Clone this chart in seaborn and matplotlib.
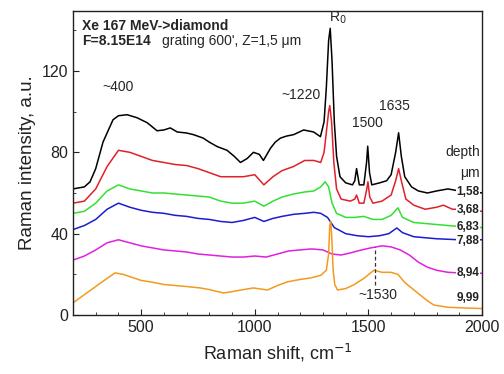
import numpy as np
import pandas as pd
import matplotlib
matplotlib.use("Agg")
import matplotlib.pyplot as plt
import seaborn as sns
from matplotlib.ticker import MultipleLocator

# ---- data ----
x_158 = [200, 250, 275, 300, 332, 376, 400, 438, 482, 526, 570, 600, 628, 659, 700, 730, 773, 800, 835, 878, 910, 937, 967, 994, 1020, 1038, 1069, 1090, 1113, 1140, 1171, 1215, 1259, 1289, 1305, 1315, 1325, 1332, 1340, 1350, 1360, 1375, 1400, 1430, 1440, 1448, 1460, 1480, 1492, 1497, 1505, 1515, 1550, 1580, 1600, 1620, 1633, 1645, 1660, 1690, 1720, 1760, 1800, 1850, 1900, 1950, 2000]
y_158 = [62, 63, 65.5, 72, 85, 96, 98, 98.5, 97, 94.6, 90.6, 91, 92, 90, 89.5, 88.7, 87, 85, 82.8, 81, 78, 75, 77, 80, 79, 76, 82, 85, 87, 88, 88.7, 91, 90, 87.7, 95, 112, 135, 141, 125, 95, 78, 68, 65, 64, 66, 72, 64, 64, 75, 83, 70, 64, 65, 66, 69, 80, 89.6, 78, 68, 63, 61, 60, 61, 62, 61, 61, 60]

x_368 = [200, 250, 300, 350, 400, 450, 500, 550, 600, 650, 700, 750, 800, 850, 900, 950, 1000, 1040, 1080, 1120, 1170, 1220, 1260, 1290, 1305, 1315, 1325, 1330, 1338, 1348, 1360, 1380, 1420, 1440, 1448, 1460, 1480, 1493, 1498, 1506, 1520, 1560, 1600, 1620, 1633, 1645, 1665, 1700, 1750, 1800, 1830, 1870, 1920, 2000]
y_368 = [55, 56, 62, 73, 81, 80, 78, 76, 75, 74, 73.5, 72, 70, 68, 68, 68, 69, 64, 68, 71, 73, 76, 76, 75, 80, 90, 100, 103, 95, 75, 62, 57, 56, 57, 59, 55, 55, 62, 65.5, 58, 55, 56, 59, 66, 72, 66, 57, 54, 52, 53, 54, 52, 52, 51]

x_683 = [200, 250, 300, 350, 400, 450, 500, 550, 600, 650, 700, 750, 800, 850, 900, 950, 1000, 1040, 1080, 1120, 1170, 1220, 1260, 1290, 1310, 1325, 1340, 1360, 1400, 1440, 1480, 1520, 1560, 1600, 1630, 1650, 1700, 1750, 1800, 1850, 1900, 2000]
y_683 = [50, 51, 55, 61, 64, 62, 61, 60, 60, 59.5, 59, 58.5, 58, 56, 55, 55, 56, 53.5, 56, 58, 59.5, 60.5, 61, 63, 65.5, 63, 55, 50, 48, 48, 48.5, 47, 47, 49, 52.7, 48, 45.5, 45, 44.5, 44, 43.5, 43]

x_788 = [200, 250, 300, 350, 400, 450, 500, 550, 600, 650, 700, 750, 800, 850, 900, 950, 1000, 1040, 1080, 1120, 1170, 1220, 1260, 1290, 1320, 1350, 1400, 1450, 1500, 1550, 1590, 1625, 1650, 1700, 1750, 1800, 1900, 2000]
y_788 = [42, 44, 47, 52, 55, 53, 51.5, 50.5, 50, 49, 48.5, 47.5, 47, 46, 45.5, 46.5, 48, 46, 47.5, 48.5, 49.5, 50, 50.5, 50, 48, 43, 40, 39, 38.5, 39, 40, 42.8, 40.5, 38.5, 38, 37.5, 37, 37]

x_894 = [200, 250, 300, 350, 400, 450, 500, 550, 600, 650, 700, 750, 800, 850, 900, 950, 1000, 1050, 1100, 1150, 1200, 1250, 1300, 1340, 1380, 1420, 1470, 1510, 1560, 1600, 1640, 1680, 1720, 1760, 1800, 1850, 1900, 2000]
y_894 = [27, 29, 32, 35.5, 37, 35.5, 34, 33, 32, 31.5, 31, 30, 29.5, 29, 28.5, 28.5, 29, 28.5, 30, 31.5, 32, 32.5, 32, 30, 29.5, 30.5, 32, 33, 34, 33.5, 32, 29.5, 26, 23.5, 22, 21, 20.7, 20.5]

x_999 = [200, 250, 300, 350, 385, 420, 460, 500, 540, 600, 650, 700, 760, 800, 863, 900, 950, 994, 1056, 1100, 1144, 1200, 1245, 1290, 1315, 1325, 1330, 1334, 1338, 1345, 1352, 1364, 1400, 1435, 1480, 1524, 1560, 1598, 1630, 1660, 1717, 1760, 1788, 1850, 1938, 2000]
y_999 = [6, 10, 14, 18, 20.7, 20, 18.5, 17, 16.3, 15, 14.5, 14, 13.3, 12.5, 10.8, 11.5, 12.5, 13.3, 12.3, 14.5, 16.3, 17.5, 18.2, 19.5, 22, 30, 44, 46, 40, 22, 15, 12.3, 13, 14.8, 18, 22, 21, 21, 20, 16, 10.8, 7, 4.9, 3.8, 3.4, 3.2]

depths = ["1,58", "3,68", "6,83", "7,88", "8,94", "9,99"]
label_y = [60.6, 51.7, 43.3, 36.5, 20.7, 8.4]
colors = ["#000000", "#e0202a", "#33e033", "#1c1cd0", "#e020e0", "#f39a1e"]

series = [(x_158, y_158), (x_368, y_368), (x_683, y_683), (x_788, y_788), (x_894, y_894), (x_999, y_999)]

sns.set_style("ticks")
plt.rcParams['font.family'] = ['Liberation Sans', 'DejaVu Sans']

fig = plt.figure(figsize=(5.04, 3.74), dpi=100)
ax = fig.add_axes([73/504, 1-315/374, (482-73)/504, (315-11)/374])

for (xs, ys), d, c in zip(series, depths, colors):
    df = pd.DataFrame({"shift": xs, "intensity": ys})
    sns.lineplot(data=df, x="shift", y="intensity", color=c, lw=1.1, ax=ax, estimator=None, sort=False)

for d, yy, c in zip(depths, label_y, colors):
    ax.text(1990, yy, d, ha="right", va="center", fontsize=8.5, fontweight="bold", color="#222222",
            bbox=dict(facecolor="white", edgecolor="none", pad=0.5))

ax.set_xlim(200, 2000)
ax.set_ylim(0, 149.5)
ax.xaxis.set_major_locator(MultipleLocator(500))
ax.xaxis.set_minor_locator(MultipleLocator(100))
ax.yaxis.set_major_locator(MultipleLocator(40))
ax.yaxis.set_minor_locator(MultipleLocator(20))
ax.tick_params(which="both", direction="in", top=False, right=False, labelsize=11.5, color="#222222",
               labelcolor="#222222")
ax.tick_params(which="major", length=4)
ax.tick_params(which="minor", length=2.5)
for s in ax.spines.values():
    s.set_linewidth(1.0)
    s.set_color("#222222")
    s.set_visible(True)

ax.set_xlabel("Raman shift, cm$^{-1}$", fontsize=13, labelpad=5, color="#222222")
ax.set_ylabel("Raman intensity, a.u.", fontsize=13.5, labelpad=4, color="#222222")

ax.text(0.022, 0.952, "Xe 167 MeV->diamond", transform=ax.transAxes, fontsize=10, fontweight="bold", va="center")
ax.text(0.022, 0.900, "F=8.15E14", transform=ax.transAxes, fontsize=10, fontweight="bold", va="center")
ax.text(0.218, 0.900, "grating 600', Z=1,5 \u03bcm", transform=ax.transAxes, fontsize=10, va="center")

ax.text(400, 112, "~400", ha="center", va="center", fontsize=10)
ax.text(1205, 108, "~1220", ha="center", va="center", fontsize=10)
ax.text(1364, 146, "R$_0$", ha="center", va="center", fontsize=10)
ax.text(1497, 94.5, "1500", ha="center", va="center", fontsize=10)
ax.text(1615, 103, "1635", ha="center", va="center", fontsize=10)
ax.text(1990, 80, "depth", ha="right", va="center", fontsize=10)
ax.text(1990, 70, "\u03bcm", ha="right", va="center", fontsize=10)
ax.text(1540, 10, "~1530", ha="center", va="center", fontsize=10)
ax.plot([1530, 1530], [14.8, 33.5], ls=(0, (3, 2)), lw=0.9, color="#333333")

fig.savefig("out.png", dpi=100)
